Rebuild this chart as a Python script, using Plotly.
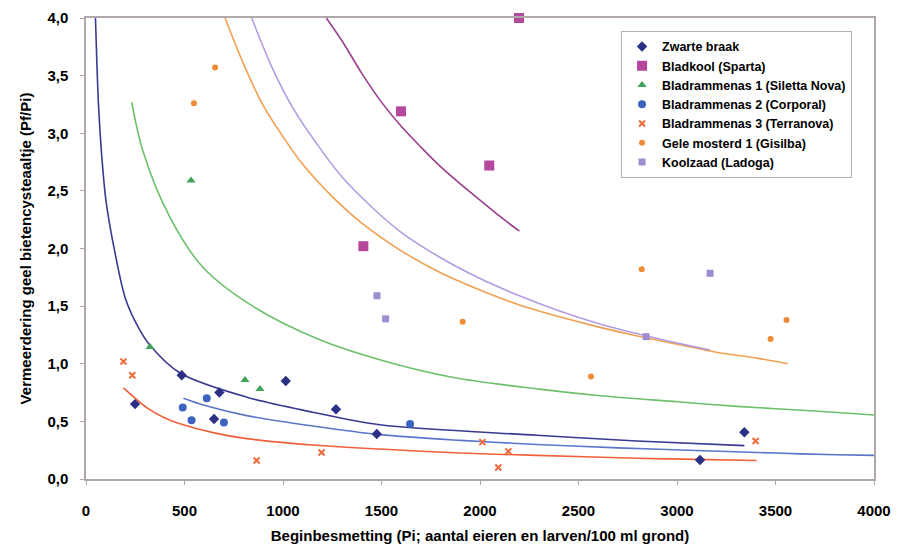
import plotly.graph_objects as go

# ---- data points ----
zb_x = [249, 486, 650, 677, 1014, 1269, 1476, 3117, 3342]
zb_y = [0.65, 0.90, 0.52, 0.75, 0.85, 0.605, 0.39, 0.165, 0.405]

bk_x = [1408, 1599, 2047, 2198]
bk_y = [2.02, 3.19, 2.72, 4.0]

br1_x = [325, 533, 807, 883]
br1_y = [1.145, 2.59, 0.86, 0.78]

br2_x = [491, 536, 613, 700, 1645]
br2_y = [0.62, 0.51, 0.70, 0.49, 0.477]

br3_x = [190, 235, 866, 1196, 2012, 2093, 2144, 3399]
br3_y = [1.02, 0.90, 0.16, 0.23, 0.32, 0.10, 0.24, 0.33]

gm_x = [548, 655, 1912, 2563, 2821, 3475, 3556]
gm_y = [3.26, 3.57, 1.365, 0.89, 1.82, 1.215, 1.38]

kz_x = [1477, 1521, 2843, 3168]
kz_y = [1.59, 1.39, 1.235, 1.785]

# ---- trend curves ----
zb_cx = [48, 55, 62, 70, 80, 101, 144, 203, 274, 330, 477, 816, 1151, 1492, 2288, 2795, 3342]
zb_cy = [4.0, 3.62, 3.30, 3.05, 2.80, 2.42, 1.99, 1.55, 1.29, 1.15, 0.92, 0.71, 0.58, 0.47, 0.38, 0.33, 0.29]

bk_cx = [1220, 1300, 1400, 1500, 1600, 1700, 1800, 1900, 2000, 2100, 2200]
bk_cy = [4.0, 3.80, 3.52, 3.27, 3.06, 2.88, 2.71, 2.56, 2.42, 2.28, 2.15]

br1_cx = [232, 288, 423, 592, 846, 1184, 1500, 1865, 2300, 2626, 3000, 3303, 3700, 4000]
br1_cy = [3.27, 2.85, 2.28, 1.84, 1.50, 1.21, 1.03, 0.88, 0.78, 0.72, 0.67, 0.63, 0.59, 0.555]

br2_cx = [494, 600, 816, 1151, 1492, 1900, 2288, 2700, 3134, 3500, 3810, 4000]
br2_cy = [0.70, 0.64, 0.55, 0.46, 0.385, 0.335, 0.30, 0.27, 0.245, 0.225, 0.21, 0.205]

br3_cx = [190, 250, 308, 400, 477, 650, 816, 1151, 1492, 1900, 2288, 2795, 3100, 3404]
br3_cy = [0.79, 0.70, 0.62, 0.53, 0.48, 0.40, 0.35, 0.295, 0.26, 0.225, 0.205, 0.18, 0.17, 0.16]

gm_cx = [706, 800, 900, 1000, 1100, 1250, 1400, 1600, 1800, 2000, 2200, 2400, 2600, 2800, 3000, 3200, 3400, 3563]
gm_cy = [4.0, 3.6, 3.24, 2.97, 2.73, 2.45, 2.22, 1.98, 1.79, 1.64, 1.51, 1.41, 1.32, 1.24, 1.17, 1.10, 1.05, 1.0]

kz_cx = [841, 950, 1050, 1150, 1300, 1450, 1600, 1800, 2000, 2200, 2400, 2600, 2800, 3000, 3168]
kz_cy = [4.0, 3.55, 3.22, 2.96, 2.62, 2.36, 2.14, 1.92, 1.74, 1.59, 1.46, 1.35, 1.26, 1.18, 1.12]

names = ["Zwarte braak", "Bladkool (Sparta)", "Bladrammenas 1 (Siletta Nova)",
         "Bladrammenas 2 (Corporal)", "Bladrammenas 3 (Terranova)",
         "Gele mosterd 1 (Gisilba)", "Koolzaad (Ladoga)"]

x_ticks = [0, 500, 1000, 1500, 2000, 2500, 3000, 3500, 4000]
y_ticks = [0.0, 0.5, 1.0, 1.5, 2.0, 2.5, 3.0, 3.5, 4.0]

series = [
    (zb_x, zb_y, zb_cx, zb_cy, "#2B2F86", "#3A3A90", "diamond", 8),
    (bk_x, bk_y, bk_cx, bk_cy, "#B5489E", "#9A3E8E", "square", 10),
    (br1_x, br1_y, br1_cx, br1_cy, "#3FA45A", "#6CC06C", "triangle-up", 8),
    (br2_x, br2_y, br2_cx, br2_cy, "#3C63C0", "#5B75C8", "circle", 8),
    (br3_x, br3_y, br3_cx, br3_cy, "#F26A3C", "#F2603A", "x-thin-open", 6),
    (gm_x, gm_y, gm_cx, gm_cy, "#F08A35", "#F0A050", "circle", 6),
    (kz_x, kz_y, kz_cx, kz_cy, "#9F8BD0", "#B49CE0", "square", 7),
]

fig = go.Figure()

for (px, py, cx, cy, mc, lc, sym, sz) in series:
    fig.add_trace(go.Scatter(x=cx, y=cy, mode="lines",
                             line=dict(color=lc, width=1.6, shape="spline", smoothing=0.9),
                             showlegend=False, hoverinfo="skip"))

for name, (px, py, cx, cy, mc, lc, sym, sz) in zip(names, series):
    mk = dict(color=mc, symbol=sym, size=sz)
    if sym.startswith("x"):
        mk["line"] = dict(color=mc, width=2)
    fig.add_trace(go.Scatter(x=px, y=py, mode="markers", name=name, marker=mk, cliponaxis=False))

FAM = "Liberation Sans, Arial, sans-serif"
big = dict(family=FAM, size=15, color="#000000", weight="bold")

fig.update_layout(
    width=899, height=544,
    margin=dict(l=78, r=33, t=10, b=73),
    paper_bgcolor="white", plot_bgcolor="white",
    separators=",.",
    font=big,
    showlegend=True,
    legend=dict(x=0.679, y=0.972, xanchor="left", yanchor="top",
                bgcolor="white", bordercolor="#B0B0B0", borderwidth=1,
                font=dict(family=FAM, size=12.5, color="#000000", weight="bold"),
                tracegroupgap=0, itemwidth=30),
    xaxis=dict(range=[0, 4000], tickvals=x_ticks, tickformat="d", showgrid=False, zeroline=False,
               automargin=False,
               showline=True, linecolor="#B0A8A8", linewidth=1.5, mirror=True,
               ticks="outside", ticklen=4, tickcolor="#B0A8A8", ticklabelstandoff=13,
               tickfont=big,
               title=dict(text="Beginbesmetting (Pi; aantal eieren en larven/100 ml grond)",
                          font=big, standoff=13)),
    yaxis=dict(range=[0, 4.0], tickvals=y_ticks, tickformat=".1f", showgrid=False, zeroline=False,
               automargin=False,
               showline=True, linecolor="#B0A8A8", linewidth=1.5, mirror=True,
               ticks="outside", ticklen=4, tickcolor="#B0A8A8", ticklabelstandoff=9,
               tickfont=big,
               title=dict(text="Vermeerdering geel bietencysteaaltje (Pf/Pi)",
                          font=big, standoff=12)),
)

fig.write_html("out.html")
